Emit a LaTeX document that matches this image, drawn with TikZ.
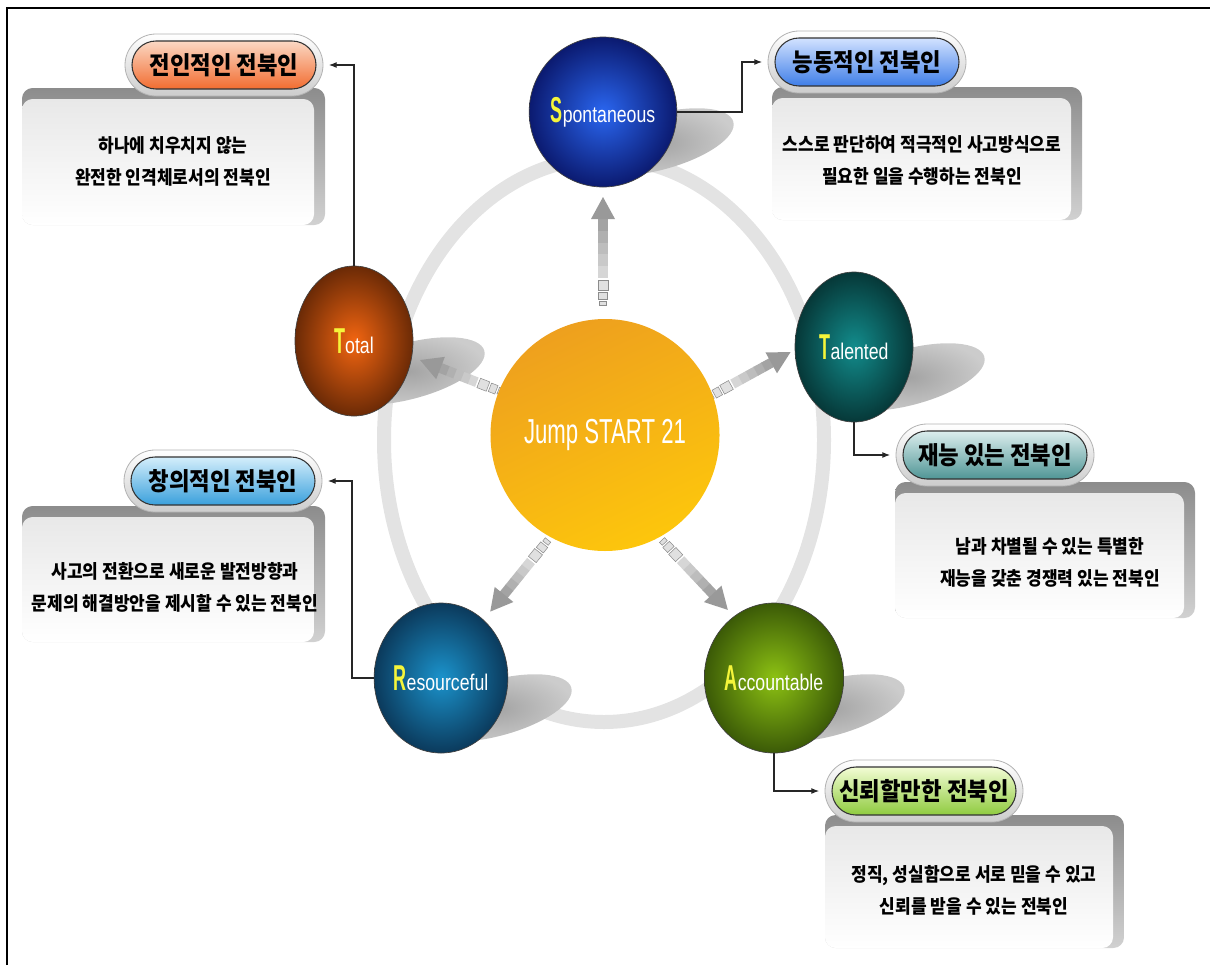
\documentclass[tikz,border=0pt]{standalone}
\usepackage{fontspec}
\usetikzlibrary{shapes.geometric,shapes.misc,arrows.meta}
\newfontfamily\kr{Noto Sans CJK KR}[FakeStretch=0.9]
\newfontfamily\latsm{Liberation Sans}[FakeStretch=0.78]
\newfontfamily\latcap{Liberation Sans}[FakeStretch=0.5]
\newfontfamily\jumpf{Liberation Sans}[FakeStretch=0.64]

\definecolor{spA}{HTML}{2A66F0}\definecolor{spB}{HTML}{0B1A70}
\definecolor{taA}{HTML}{128C8C}\definecolor{taB}{HTML}{063838}
\definecolor{acA}{HTML}{8DC213}\definecolor{acB}{HTML}{3B5A07}
\definecolor{reA}{HTML}{1B93CC}\definecolor{reB}{HTML}{0B3A5C}
\definecolor{toA}{HTML}{F26511}\definecolor{toB}{HTML}{6B2A06}
\definecolor{ceA}{HTML}{EEA01E}\definecolor{ceB}{HTML}{FDC60C}
\definecolor{labY}{HTML}{F5F53A}
\definecolor{p1A}{HTML}{FBD8C4}\definecolor{p1B}{HTML}{F26C30}
\definecolor{p2A}{HTML}{D2E2FF}\definecolor{p2B}{HTML}{3F7EE8}
\definecolor{p3A}{HTML}{D4EEFB}\definecolor{p3B}{HTML}{3AA0DC}
\definecolor{p4A}{HTML}{DCEEEE}\definecolor{p4B}{HTML}{4F9595}
\definecolor{p5A}{HTML}{F2FCD4}\definecolor{p5B}{HTML}{8FCB3F}

\tikzset{
  sphere/.style={ellipse, minimum width=88.5pt, minimum height=112.5pt, inner sep=0pt,
    draw=black!75, line width=0.5pt, text=white},
  shadowell/.style={ellipse, minimum width=117pt, minimum height=42pt, inner sep=0pt,
    rotate=15, inner color=black!36, outer color=black!20},
  pillouter/.style={rounded rectangle, minimum width=148.5pt, minimum height=46.5pt, inner sep=0pt,
    draw=black!30, line width=0.6pt, top color=white, bottom color=black!20},
  pillinner/.style={rounded rectangle, minimum width=138pt, minimum height=36pt, inner sep=0pt,
    draw=black!80, line width=0.8pt, font=\kr\bfseries\fontsize{18.6pt}{20pt}\selectfont},
  boxshell/.style={rounded corners=8pt, top color=black!45, bottom color=black!18},
  boxface/.style={rounded corners=8pt, top color=black!9, bottom color=white},
  desc/.style={align=center, font=\kr\bfseries\fontsize{14.2pt}{24pt}\selectfont, inner sep=0pt},
  conn/.style={draw=black!85, line width=0.9pt, -{Latex[length=6pt,width=4.5pt]}, shorten >=4pt},
  sq/.style={fill=black!12, draw=black!45, line width=0.4pt},
  ring/.style={draw=black!11, line width=10.5pt},
}
\newcommand\lbl[2]{{\latcap\bfseries\fontsize{27pt}{27pt}\selectfont\color{labY}#1}{\latsm\fontsize{17pt}{17pt}\selectfont #2}}
\newcommand\radarrow[3]{%
  \begin{scope}[shift={#1}, rotate=#2]
    \pgfmathsetmacro\hb{#3-22}
    \pgfmathsetmacro\sg{(\hb-27)/5}
    \foreach \i in {0,...,4}{
      \pgfmathsetmacro\xa{27+\i*\sg}
      \pgfmathsetmacro\xb{27+(\i+1)*\sg+0.5}
      \pgfmathsetmacro\cc{16+5*\i}
      \fill[black!\cc] (\xa,-5) rectangle (\xb,5);
    }
    \fill[black!40] (\hb,-12) -- (#3,0) -- (\hb,12) -- cycle;
    \filldraw[sq] (0,-3.5) rectangle (4,3.5);
    \filldraw[sq] (6,-4.5) rectangle (13,4.5);
    \filldraw[sq] (15,-5) rectangle (25,5);
  \end{scope}}

\begin{document}
\begin{tikzpicture}[x=0.75pt, y=-0.75pt]
\useasboundingbox (0,0) rectangle (1210,965);
% frame
\draw[line width=1.5pt] (7,965) -- (7,8) -- (1210,8);

% ring
\draw[ring] (604,440) ellipse [x radius=220, y radius=282];

% shadows
\node[shadowell] (shs) at (658,142) {};
\node[shadowell] (sht) at (909,377) {};
\node[shadowell] (sha) at (829,708) {};
\node[shadowell] (shr) at (496,708) {};
\node[shadowell] (sho) at (409,371) {};

% radial arrows
\radarrow{(603,305)}{90}{108}
\radarrow{(502,392)}{158.7}{88}
\radarrow{(709,397)}{28.8}{93}
\radarrow{(548,540)}{-128.9}{92}
\radarrow{(662,540)}{-46.7}{96}

% spheres
\node[sphere, inner color=spA, outer color=spB] (spont) at (603,112) {\lbl{S}{pontaneous}};
\node[sphere, inner color=taA, outer color=taB] (tal) at (854,347) {\lbl{T}{alented}};
\node[sphere, inner color=acA, outer color=acB] (acc) at (774,678) {\lbl{A}{ccountable}};
\node[sphere, inner color=reA, outer color=reB] (res) at (441,678) {\lbl{R}{esourceful}};
\node[sphere, inner color=toA, outer color=toB] (total) at (354,341) {\lbl{T}{otal}};

% center
\node[ellipse, minimum width=147pt, minimum height=174pt, inner sep=0pt,
  top color=ceA, bottom color=ceB, shading angle=25, text=white,
  font=\jumpf\fontsize{26pt}{26pt}\selectfont] (center) at (605,435) {Jump START 21};

% description boxes
\shade[boxshell] (22,88) rectangle (325,225);
\shade[boxface] (22,99) rectangle (314,225);
\shade[boxshell] (772,87) rectangle (1082,220);
\shade[boxface] (772,98) rectangle (1071,220);
\shade[boxshell] (22,506) rectangle (325,642);
\shade[boxface] (22,517) rectangle (314,642);
\shade[boxshell] (895,482) rectangle (1195,618);
\shade[boxface] (895,493) rectangle (1184,618);
\shade[boxshell] (825,815) rectangle (1124,948);
\shade[boxface] (825,826) rectangle (1113,948);

\node[desc] (b1t) at (173,161) {하나에 치우치지 않는\\완전한 인격체로서의 전북인};
\node[desc] (b2t) at (922,160) {스스로 판단하여 적극적인 사고방식으로\\필요한 일을 수행하는 전북인};
\node[desc] (b3t) at (175,587) {사고의 전환으로 새로운 발전방향과\\문제의 해결방안을 제시할 수 있는 전북인};
\node[desc] (b4t) at (1050,562) {남과 차별될 수 있는 특별한\\재능을 갖춘 경쟁력 있는 전북인};
\node[desc] (b5t) at (974,890) {정직, 성실함으로 서로 믿을 수 있고\\신뢰를 받을 수 있는 전북인};

% pills
\node[pillouter] (p1o) at (224,65) {};
\node[pillinner, top color=p1A, bottom color=p1B] (p1) at (p1o.center) {전인적인 전북인};
\node[pillouter] (p2o) at (867,62) {};
\node[pillinner, top color=p2A, bottom color=p2B] (p2) at (p2o.center) {능동적인 전북인};
\node[pillouter] (p3o) at (223,481) {};
\node[pillinner, top color=p3A, bottom color=p3B] (p3) at (p3o.center) {창의적인 전북인};
\node[pillouter] (p4o) at (995,455) {};
\node[pillinner, top color=p4A, bottom color=p4B] (p4) at (p4o.center) {재능 있는 전북인};
\node[pillouter] (p5o) at (924,791) {};
\node[pillinner, top color=p5A, bottom color=p5B] (p5) at (p5o.center) {신뢰할만한 전북인};

% connectors
\coordinate (c2) at (742,112);
\coordinate (c4) at (352,678);
\draw[conn] (total.north) |- (p1o.east);
\draw[conn] (spont.east) -- (c2) |- (p2o.west);
\draw[conn] (tal.south) |- (p4o.west);
\draw[conn] (res.west) -- (c4) |- (p3o.east);
\draw[conn] (acc.south) |- (p5o.west);
\end{tikzpicture}
\end{document}
